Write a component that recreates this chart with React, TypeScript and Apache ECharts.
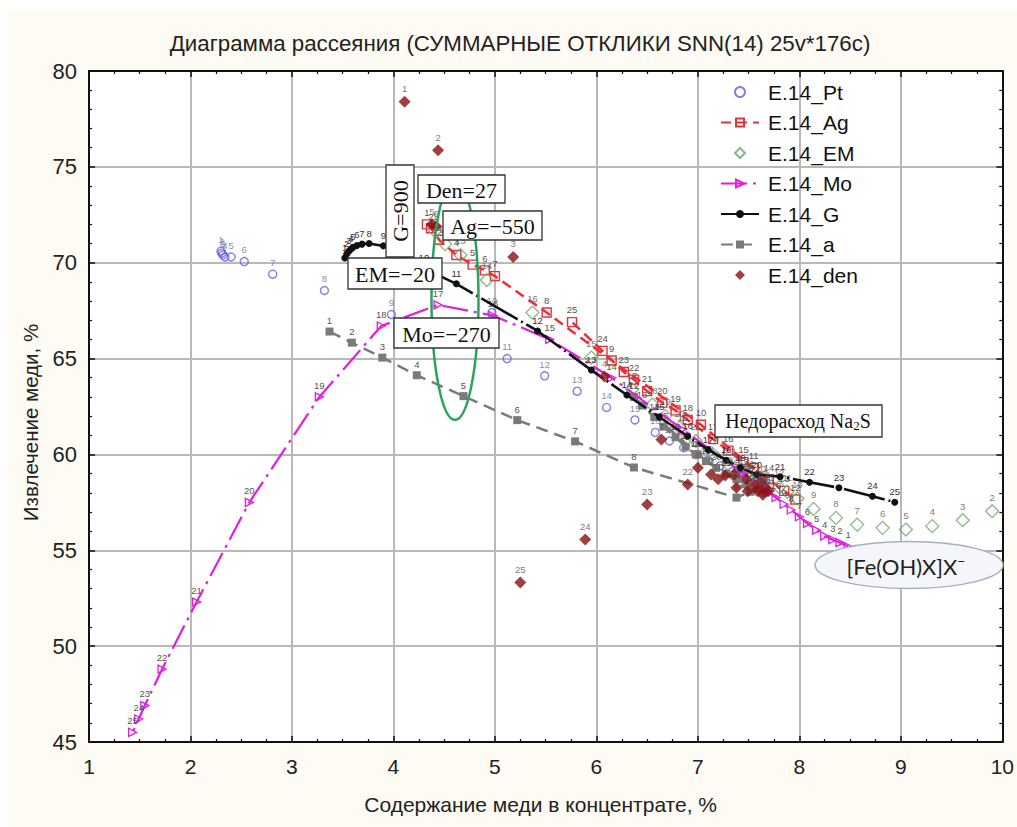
import React, { useEffect, useRef } from "react";
import * as echarts from "echarts";

// Axis ranges and tick steps
const X_MIN = 1;
const X_MAX = 10;
const X_STEP = 1;
const Y_MIN = 45;
const Y_MAX = 80;
const Y_STEP = 5;

const TITLE = "Диаграмма рассеяния (СУММАРНЫЕ ОТКЛИКИ SNN(14) 25v*176c)";
const X_NAME = "Содержание меди в концентрате, %";
const Y_NAME = "Извлечение меди, %";

const SERIES_NAMES = ["E.14_Pt", "E.14_Ag", "E.14_EM", "E.14_Mo", "E.14_G", "E.14_a", "E.14_den"];

// [copper content, copper recovery] for cases 1..25 of each response
const ptPoints: [number, number][] = [
  [2.3, 70.6], [2.31, 70.5], [2.32, 70.4], [2.34, 70.3], [2.4, 70.3],
  [2.53, 70.06], [2.81, 69.4], [3.32, 68.55], [3.98, 67.3], [4.97, 67.4],
  [5.12, 65.0], [5.49, 64.1], [5.81, 63.3], [6.1, 62.45], [6.38, 61.8],
  [6.58, 61.15], [6.72, 60.7], [6.86, 60.35], [6.98, 60.0], [7.1, 59.7],
  [7.22, 59.4], [7.34, 59.1], [7.46, 58.8], [7.56, 58.6], [7.64, 58.4],
];

const agPoints: [number, number][] = [
  [4.33, 72.0], [4.37, 71.8], [4.45, 71.2], [4.62, 70.4], [4.78, 69.9],
  [4.9, 69.6], [5.0, 69.3], [5.51, 67.4], [6.15, 64.9], [7.03, 61.55],
  [7.55, 59.3], [7.96, 57.65], [7.85, 58.1], [7.7, 58.7], [7.45, 59.6],
  [7.3, 60.2], [7.15, 60.8], [6.9, 61.8], [6.78, 62.3], [6.65, 62.7],
  [6.5, 63.3], [6.37, 63.9], [6.27, 64.3], [6.06, 65.4], [5.76, 66.9],
];

const emPoints: [number, number][] = [
  [4.41, 71.66], [9.9, 57.04], [9.61, 56.57], [9.31, 56.26], [9.05, 56.08],
  [8.82, 56.17], [8.57, 56.34], [8.36, 56.69], [8.14, 57.16], [7.98, 57.7],
  [7.88, 58.05], [7.8, 58.3], [4.66, 70.4], [4.92, 69.1], [5.95, 65.05],
  [5.37, 67.4], [6.35, 63.4], [6.55, 62.6], [6.68, 62.0], [6.82, 61.4],
  [6.98, 60.7], [7.15, 60.0], [7.32, 59.4], [7.5, 58.8], [4.51, 70.97],
];

const moPoints: [number, number][] = [
  [8.48, 55.2], [8.4, 55.4], [8.33, 55.55], [8.25, 55.75], [8.17, 56.05],
  [8.08, 56.4], [8.0, 56.75], [7.92, 57.1], [7.85, 57.4], [7.77, 57.75],
  [7.68, 58.1], [7.45, 59.0], [6.85, 61.3], [6.15, 64.0], [5.54, 66.0],
  [4.98, 67.25], [4.44, 67.8], [3.88, 66.7], [3.27, 63.0], [2.58, 57.5],
  [2.06, 52.3], [1.72, 48.8], [1.55, 46.9], [1.49, 46.2], [1.43, 45.5],
];

const gPoints: [number, number][] = [
  [3.52, 70.25], [3.54, 70.45], [3.56, 70.6], [3.58, 70.7], [3.6, 70.8],
  [3.64, 70.9], [3.69, 70.97], [3.76, 71.0], [3.9, 70.88], [4.3, 69.7],
  [4.62, 68.9], [5.42, 66.44], [5.95, 64.4], [6.3, 63.1], [6.62, 61.95],
  [6.9, 60.95], [7.1, 60.25], [7.28, 59.7], [7.42, 59.3], [7.58, 58.95],
  [7.81, 58.84], [8.1, 58.55], [8.39, 58.26], [8.72, 57.82], [8.94, 57.51],
];

const aPoints: [number, number][] = [
  [3.37, 66.41], [3.59, 65.83], [3.89, 65.05], [4.23, 64.13], [4.69, 63.04],
  [5.22, 61.79], [5.79, 60.68], [6.37, 59.32], [7.38, 57.75], [7.52, 58.05],
  [7.0, 60.0], [6.37, 63.0], [6.45, 62.55], [6.57, 61.95], [6.66, 61.45],
  [6.78, 60.9], [6.88, 60.4], [6.98, 60.0], [7.08, 59.65], [7.18, 59.3],
  [7.28, 59.0], [7.38, 58.7], [7.48, 58.45], [7.58, 58.2], [7.66, 58.0],
];

const denPoints: [number, number][] = [
  [4.11, 78.4], [4.44, 75.87], [5.18, 70.3], [6.08, 64.06], [4.38, 72.0],
  [4.42, 71.9], [6.64, 60.78], [7.0, 59.3], [7.13, 58.95], [7.2, 58.7],
  [7.27, 58.9], [7.36, 58.95], [7.38, 58.26], [7.48, 58.7], [7.49, 58.08],
  [7.56, 58.38], [7.59, 58.08], [7.64, 57.9], [7.66, 58.26], [7.62, 58.6],
  [7.7, 58.1], [6.9, 58.43], [6.5, 57.39], [5.89, 55.56], [5.25, 53.32],
];

// Factor annotations drawn over the plot
const FACTOR_BOXES = [
  { text: "Den=27", x: 418, y: 175, w: 87, h: 28 },
  { text: "Ag=−550", x: 443, y: 211, w: 99, h: 29 },
  { text: "EM=−20", x: 348, y: 258, w: 94, h: 31 },
  { text: "Mo=−270", x: 394, y: 318, w: 105, h: 30 },
];

const SANS = "'Liberation Sans', Arial, sans-serif";
const SERIF = "'Liberation Serif', 'Times New Roman', serif";
const HOLLOW = "rgba(255,255,255,0)";
// diamond outline used for legend keys (keeps its aspect inside the wide key box)
const DIAMOND_ICON = "path://M5,0L10,5L5,10L0,5Z";

const numberLabel = (color = "#555") => ({
  show: true,
  position: "top" as const,
  distance: 2,
  fontSize: 9.5,
  fontFamily: SANS,
  color,
  formatter: (p: any) => String(p.dataIndex + 1),
});

function buildOption() {
  const series: any[] = [
    {
      name: SERIES_NAMES[0],
      type: "scatter",
      data: ptPoints,
      symbol: "circle",
      symbolSize: 8,
      itemStyle: { color: HOLLOW, borderColor: "#6262e0", borderWidth: 1.4 },
      label: numberLabel("#6a6aa0"),
      z: 3,
    },
    {
      name: SERIES_NAMES[1],
      type: "line",
      data: agPoints,
      symbol: "rect",
      symbolSize: 9,
      itemStyle: { color: HOLLOW, borderColor: "#e8303a", borderWidth: 1.4 },
      lineStyle: { color: "#e8303a", width: 2.5, type: [10, 6] },
      label: numberLabel(),
      z: 4,
    },
    {
      name: SERIES_NAMES[2],
      type: "scatter",
      data: emPoints,
      symbol: "diamond",
      symbolSize: 13,
      itemStyle: { color: HOLLOW, borderColor: "#6aa66a", borderWidth: 1.3 },
      label: numberLabel(),
      z: 4,
    },
    {
      name: SERIES_NAMES[3],
      type: "line",
      data: moPoints,
      symbol: "triangle",
      symbolRotate: -90,
      symbolSize: 8,
      itemStyle: { color: HOLLOW, borderColor: "#e01ee0", borderWidth: 1.3 },
      lineStyle: { color: "#e01ee0", width: 2.2, type: [26, 6, 3, 6] },
      label: numberLabel(),
      z: 5,
    },
    {
      name: SERIES_NAMES[4],
      type: "line",
      data: gPoints,
      symbol: "circle",
      symbolSize: 7,
      itemStyle: { color: "#111" },
      lineStyle: { color: "#111", width: 2.6, type: [42, 4, 2, 4] },
      label: numberLabel("#333"),
      z: 6,
    },
    {
      name: SERIES_NAMES[5],
      type: "line",
      data: aPoints,
      symbol: "rect",
      symbolSize: 8,
      itemStyle: { color: "#7a7a7a" },
      lineStyle: { color: "#7a7a7a", width: 2.5, type: [12, 7] },
      label: numberLabel(),
      z: 4,
    },
    {
      name: SERIES_NAMES[6],
      type: "scatter",
      data: denPoints,
      symbol: "diamond",
      symbolSize: 12,
      itemStyle: { color: "#8b1010" },
      label: numberLabel(),
      z: 7,
    },
  ];

  const axisCommon = {
    type: "value" as const,
    axisLine: { show: true, onZero: false, lineStyle: { color: "#111", width: 2 } },
    axisTick: { show: true, inside: true, length: 6, lineStyle: { color: "#111", width: 1.5 } },
    minorTick: { show: true, length: 3, lineStyle: { color: "#111", width: 1.2 } },
  };

  const graphic: any[] = [
    // page corner strips outside the cream panel
    { type: "rect", shape: { x: 0, y: 0, width: 1017, height: 10 }, style: { fill: "#ffffff" }, silent: true },
    { type: "rect", shape: { x: 0, y: 0, width: 7, height: 827 }, style: { fill: "#ffffff" }, silent: true },
    {
      type: "text",
      x: 520,
      y: 43,
      style: { text: TITLE, fill: "#222", font: `22.3px ${SANS}`, textAlign: "center", textVerticalAlign: "middle" },
    },
    // highlighted region of the top factor settings
    {
      type: "ellipse",
      z: 20,
      shape: { cx: 455, cy: 300, rx: 23.5, ry: 120 },
      style: { fill: "none", stroke: "#2ba35e", lineWidth: 2.5 },
    },
    // G=900 box with vertical caption
    {
      type: "rect",
      z: 21,
      shape: { x: 386, y: 165, width: 28, height: 92 },
      style: { fill: "#fff", stroke: "#333", lineWidth: 1.3 },
    },
    {
      type: "text",
      z: 22,
      x: 400,
      y: 211,
      rotation: Math.PI / 2,
      style: { text: "G=900", fill: "#111", font: `22px ${SERIF}`, textAlign: "center", textVerticalAlign: "middle" },
    },
    ...FACTOR_BOXES.flatMap((b) => [
      {
        type: "rect",
        z: 21,
        shape: { x: b.x, y: b.y, width: b.w, height: b.h },
        style: { fill: "#fff", stroke: "#333", lineWidth: 1.3 },
      },
      {
        type: "text",
        z: 22,
        x: b.x + b.w / 2,
        y: b.y + b.h / 2 + 1,
        style: { text: b.text, fill: "#111", font: `22px ${SERIF}`, textAlign: "center", textVerticalAlign: "middle" },
      },
    ]),
    // sodium sulfide shortage note
    {
      type: "rect",
      z: 21,
      shape: { x: 715, y: 405, width: 167, height: 32 },
      style: { fill: "#fff", stroke: "#333", lineWidth: 1.3 },
    },
    {
      type: "text",
      z: 22,
      x: 798,
      y: 421,
      style: {
        text: "{a|Недорасход Na}{s|2}{a|S}",
        textAlign: "center",
        textVerticalAlign: "middle",
        rich: {
          a: { fontSize: 20, fontFamily: SERIF, fill: "#111", color: "#111" },
          s: { fontSize: 13, fontFamily: SERIF, fill: "#111", color: "#111", padding: [9, 0, 0, 0] },
        },
      },
    },
    // iron complex note
    {
      type: "ellipse",
      z: 21,
      shape: { cx: 909, cy: 565, rx: 94, ry: 23.5 },
      style: { fill: "#f4f6fa", stroke: "#a4b0c2", lineWidth: 1.5 },
    },
    {
      type: "text",
      z: 22,
      x: 906,
      y: 566,
      style: {
        text: "{a|[Fe(OH)X]X}{s|−}",
        textAlign: "center",
        textVerticalAlign: "middle",
        rich: {
          a: { fontSize: 22, fontFamily: "Lato, 'Open Sans', sans-serif", fill: "#222", color: "#222" },
          s: { fontSize: 14, fontFamily: "Lato, 'Open Sans', sans-serif", fill: "#222", color: "#222", padding: [0, 0, 12, 0] },
        },
      },
    },
  ];

  const legendData = SERIES_NAMES.map((name) =>
    name === "E.14_EM" || name === "E.14_den" ? { name, icon: DIAMOND_ICON } : { name }
  );

  return {
    animation: false,
    backgroundColor: "#fdfbf3",
    textStyle: { fontFamily: SANS },
    grid: {
      left: 89,
      top: 71,
      right: 14,
      bottom: 85,
      show: true,
      backgroundColor: "#ffffff",
      borderWidth: 0,
    },
    legend: {
      orient: "vertical",
      left: 715,
      top: 75,
      itemWidth: 38,
      itemHeight: 10,
      itemGap: 6.5,
      symbolKeepAspect: true,
      data: legendData,
      textStyle: { fontSize: 21, fontFamily: SANS, color: "#111", lineHeight: 24, padding: [0, 0, 0, 4] },
    },
    xAxis: [
      {
        ...axisCommon,
        position: "bottom",
        min: X_MIN,
        max: X_MAX,
        interval: X_STEP,
        minorTick: { ...axisCommon.minorTick, splitNumber: 4 },
        splitLine: { show: true, lineStyle: { color: "#b8b8b8", width: 2 } },
        axisLabel: { fontSize: 21, color: "#222", margin: 14, fontFamily: SANS },
        name: X_NAME,
        nameLocation: "middle",
        nameGap: 52,
        nameTextStyle: { fontSize: 21, color: "#222", fontFamily: SANS, padding: [0, 10, 0, 0] },
      },
      {
        ...axisCommon,
        position: "top",
        min: X_MIN,
        max: X_MAX,
        interval: X_STEP,
        minorTick: { ...axisCommon.minorTick, splitNumber: 4 },
        splitLine: { show: false },
        axisLabel: { show: false },
      },
    ],
    yAxis: [
      {
        ...axisCommon,
        position: "left",
        min: Y_MIN,
        max: Y_MAX,
        interval: Y_STEP,
        minorTick: { ...axisCommon.minorTick, splitNumber: 5 },
        splitLine: { show: true, lineStyle: { color: "#b8b8b8", width: 2 } },
        axisLabel: { fontSize: 22, color: "#222", margin: 12, fontFamily: SANS },
        name: Y_NAME,
        nameLocation: "middle",
        nameGap: 48,
        nameTextStyle: { fontSize: 20.5, color: "#222", fontFamily: SANS, padding: [0, 32, 0, 0] },
      },
      {
        ...axisCommon,
        position: "right",
        min: Y_MIN,
        max: Y_MAX,
        interval: Y_STEP,
        minorTick: { ...axisCommon.minorTick, splitNumber: 5 },
        splitLine: { show: false },
        axisLabel: { show: false },
      },
    ],
    series,
    graphic,
  };
}

export default function App() {
  const ref = useRef<HTMLDivElement>(null);

  useEffect(() => {
    if (!ref.current) return;
    const chart = echarts.init(ref.current, undefined, { renderer: "svg" });
    chart.setOption(buildOption() as any);
    return () => chart.dispose();
  }, []);

  return (
    <div
      ref={ref}
      style={{ position: "absolute", left: 0, top: 0, width: 1017, height: 827 }}
    />
  );
}
